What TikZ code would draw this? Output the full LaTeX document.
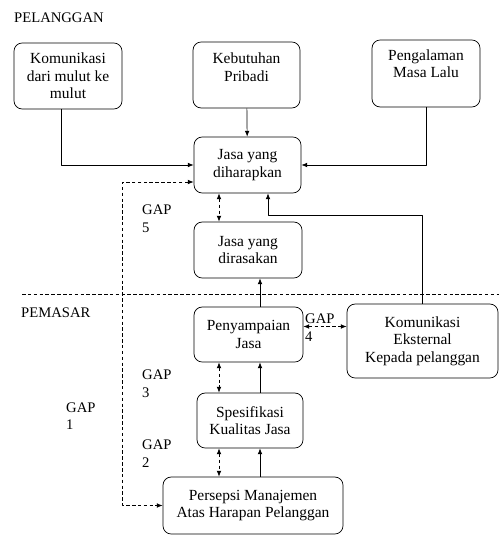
\documentclass[tikz,border=0pt]{standalone}
\usepackage{fontspec}
\setmainfont{Liberation Serif}
\usetikzlibrary{calc,arrows.meta}
% teks di kotak atas sedikit naik
\newcommand{\teksnaik}[2]{\raisebox{#1}[\height][\depth]{\begin{tabular}{@{}c@{}}#2\end{tabular}}}

\begin{document}
\begin{tikzpicture}[x=0.03cm, y=-0.03cm, >={Latex[length=5pt,width=4pt]}, line join=round,
    kotak/.style={draw, line width=0.6pt, rounded corners=7pt, align=center, inner sep=2pt,
      minimum width=3.24cm, minimum height=1.68cm, font=\fontsize{13.2}{15}\selectfont},
    garis/.style={line width=0.6pt},
    putus/.style={line width=0.6pt, dash pattern=on 3pt off 2pt},
    gap/.style={align=left, anchor=west, inner sep=0pt, font=\fontsize{12.5}{15}\selectfont},
    judul/.style={anchor=west, inner sep=0pt, font=\fontsize{12.5}{15}\selectfont}]
    \useasboundingbox (0,0) rectangle (499,541);
    % kotak
    \node[kotak, minimum height=1.98cm] (kom) at (68,76) {Komunikasi\\dari mulut ke\\mulut};
    \node[kotak, minimum width=3.21cm, minimum height=1.98cm] (keb) at (246.5,75) {\teksnaik{5pt}{Kebutuhan\\Pribadi}};
    \node[kotak, minimum height=2.01cm] (pen) at (426,73.5) {\teksnaik{7pt}{Pengalaman\\Masa Lalu}};
    \node[kotak, minimum width=3.21cm] (harap) at (247.5,165) {Jasa yang\\diharapkan};
    \node[kotak] (rasa) at (248,250) {Jasa yang\\dirasakan};
    \node[kotak, minimum width=3.27cm, minimum height=1.65cm] (sampai) at (248.5,334.5) {Penyampaian\\Jasa};
    \node[kotak, minimum width=4.53cm, minimum height=2.22cm] (eks) at (422.5,341) {Komunikasi\\Eksternal\\Kepada pelanggan};
    \node[kotak, minimum width=3.18cm, minimum height=1.65cm] (spek) at (250,420.5) {Spesifikasi\\Kualitas Jasa};
    \node[kotak, minimum width=5.4cm, minimum height=1.71cm] (persepsi) at (253,505.5) {Persepsi Manajemen\\Atas Harapan Pelanggan};
    % label
    \node[judul] (pelanggan) at (14,18) {PELANGGAN};
    \node[judul] (pemasar) at (21,313) {PEMASAR};
    \node[gap] (gap5) at (142,218.5) {GAP\\5};
    \node[gap] (gap4) at (305,327.5) {GAP\\4};
    \node[gap] (gap3) at (142,384) {GAP\\3};
    \node[gap] (gap2) at (142,453.5) {GAP\\2};
    \node[gap] (gap1) at (66,416) {GAP\\1};
    % garis batas
    \draw[putus] (22,294) -- (499,294);
    % panah
    \coordinate (xd) at (219,0);
    \coordinate (xs) at (260,0);
    \draw[garis,->] ($(kom.south)+(-7,0)$) |- (harap.west);
    \draw[garis,->] (keb) -- (harap);
    \draw[garis,->] (pen.south) |- (harap.east);
    \draw[putus,<->] ($(harap.west)+(0,17)$) -- ++(-71,0) |- (persepsi.west);
    \draw[putus,<->] (harap.south -| xd) -- (rasa.north -| xd);
    \draw[garis,->] (eks.north) |- ($(harap.south)+(20.5,22)$) -- ($(harap.south)+(20.5,0)$);
    \draw[garis,->] (sampai.north -| xs) -- (rasa.south -| xs);
    \draw[putus,<->] (sampai.south -| xd) -- (spek.north -| xd);
    \draw[garis,->] (spek.north -| xs) -- (sampai.south -| xs);
    \draw[putus,<->] (spek.south -| xd) -- (persepsi.north -| xd);
    \draw[garis,->] (persepsi.north -| xs) -- (spek.south -| xs);
    \coordinate (g4) at ($(sampai.east)+(0,-8)$);
    \draw[putus,<->] (g4) -- (g4 -| eks.west);
\end{tikzpicture}
\end{document}
